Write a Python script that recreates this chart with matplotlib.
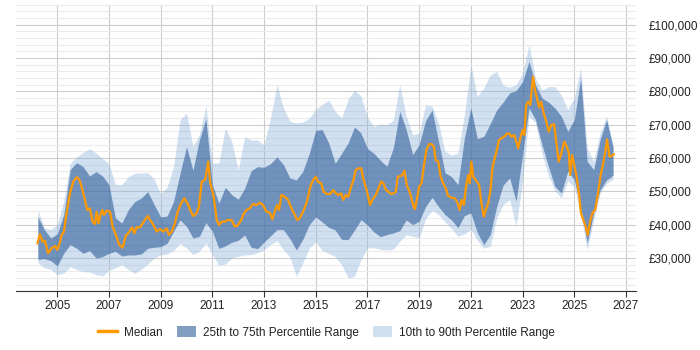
import numpy as np
import matplotlib
matplotlib.use("Agg")
import matplotlib.pyplot as plt
from matplotlib.lines import Line2D
from matplotlib.patches import Patch
from matplotlib.ticker import FuncFormatter, MultipleLocator

plt.rcParams['font.family'] = ['Liberation Sans', 'DejaVu Sans']

# quarterly percentile bands, values in £k
band_years = np.arange(2004.25, 2026.51, 0.25)

p90 = [44.4, 39.0, 38.5,
       40.0, 47.0, 58.4, 60.3,
       61.7, 62.8, 61.5, 59.8,
       58.4, 52.0, 52.0, 54.4,
       55.4, 55.5, 55.6, 53.6,
       49.2, 51.3, 57.5, 71.4,
       73.5, 63.5, 67.0, 75.8,
       58.5, 58.5, 69.0, 65.0,
       56.4, 66.4, 65.4, 65.4,
       63.9, 72.0, 82.0, 75.0,
       71.0, 70.5, 70.8, 71.9,
       74.7, 76.0, 77.4, 74.0,
       72.0, 77.6, 80.3, 78.6,
       72.3, 69.4, 70.2, 70.0,
       71.3, 82.0, 72.5, 67.0,
       67.5, 76.0, 75.5, 70.5,
       62.0, 60.9, 61.5, 73.0,
       88.0, 78.5, 81.0, 84.9,
       86.0, 81.9, 81.2, 82.0,
       85.4, 94.0, 84.0, 80.4,
       81.4, 81.4, 78.9, 74.5,
       78.0, 87.0, 63.0, 59.0,
       67.5, 72.5, 64.0]

p75 = [42.4, 38.5, 36.0,
       37.2, 43.0, 56.5, 58.6,
       57.4, 54.6, 55.9, 54.6,
       52.0, 42.0, 40.5, 44.5,
       46.9, 48.0, 49.9, 46.0,
       42.3, 42.6, 47.0, 55.4,
       63.4, 56.3, 65.5, 71.8,
       52.0, 46.5, 51.2, 49.0,
       47.6, 50.9, 56.2, 57.4,
       57.2, 58.3, 60.3, 58.0,
       54.0, 53.4, 56.0, 61.4,
       68.3, 68.5, 64.5, 58.4,
       61.4, 64.5, 69.3, 67.5,
       62.8, 61.4, 59.3, 57.5,
       63.0, 74.0, 68.5, 61.0,
       64.0, 71.2, 74.4, 65.0,
       55.6, 54.4, 52.0, 66.0,
       75.0, 65.8, 66.5, 70.3,
       74.4, 76.8, 79.5, 80.2,
       82.9, 89.0, 82.0, 78.0,
       76.8, 75.0, 72.5, 68.0,
       71.5, 84.0, 59.0, 56.5,
       65.5, 71.5, 63.2]

p25 = [29.6, 29.8, 29.2,
       27.6, 31.4, 34.0, 32.9,
       31.4, 32.2, 30.0, 30.4,
       31.4, 32.0, 30.6, 30.9,
       30.9, 31.2, 32.9, 33.2,
       33.4, 34.4, 38.0, 41.4,
       39.5, 36.0, 36.5, 40.6,
       38.0, 32.9, 33.6, 34.7,
       35.3, 36.9, 33.2, 32.8,
       34.8, 36.6, 38.5, 38.5,
       35.8, 32.4, 35.6, 40.0,
       42.3, 40.8, 39.2, 38.4,
       35.6, 35.5, 38.4, 41.5,
       39.9, 37.8, 36.4, 37.0,
       37.5, 38.2, 41.4, 40.0,
       41.0, 45.4, 48.2, 45.4,
       43.0, 41.4, 39.1, 42.7,
       43.5, 37.6, 34.0, 37.0,
       45.5, 51.9, 54.0, 47.0,
       61.0, 75.0, 71.5, 64.0,
       57.5, 51.5, 49.5, 56.0,
       53.5, 45.0, 34.5, 43.4,
       50.4, 53.4, 54.8]

p10 = [28.6, 27.0, 26.6,
       25.0, 25.4, 27.4, 26.5,
       25.9, 25.8, 25.0, 24.6,
       26.3, 27.0, 28.0, 26.5,
       25.4, 26.6, 28.2, 30.0,
       30.9, 31.2, 32.2, 34.4,
       33.0, 31.0, 32.0, 34.5,
       31.0, 27.8, 28.2, 30.0,
       30.5, 30.9, 31.0, 31.6,
       32.4, 34.0, 35.2, 32.5,
       30.2, 24.5, 28.5, 33.0,
       34.9, 32.2, 31.4, 30.4,
       28.0, 24.0, 24.5, 29.5,
       33.0, 33.0, 32.6, 32.4,
       32.6, 35.0, 37.0, 36.5,
       36.0, 41.8, 44.3, 43.0,
       40.8, 38.8, 36.5, 37.2,
       38.6, 35.3, 32.9, 33.5,
       42.0, 46.0, 47.5, 39.5,
       53.0, 72.5, 70.5, 61.4,
       54.8, 50.2, 48.0, 53.0,
       51.5, 43.0, 32.5, 41.4,
       49.4, 52.4, 53.6]

# median, £k
median_years = [
    2004.23, 2004.33, 2004.43, 2004.52, 2004.65, 2004.78, 2004.91, 2005.00,
    2005.10, 2005.17, 2005.26, 2005.36, 2005.49, 2005.62, 2005.75, 2005.85,
    2005.94, 2006.07, 2006.16, 2006.26, 2006.37, 2006.46, 2006.52, 2006.60,
    2006.68, 2006.75, 2006.80, 2006.91, 2007.04, 2007.14, 2007.27, 2007.40,
    2007.53, 2007.65, 2007.78, 2007.90, 2007.98, 2008.07, 2008.20, 2008.29,
    2008.39, 2008.50, 2008.59, 2008.72, 2008.85, 2008.97, 2009.10, 2009.23,
    2009.32, 2009.43, 2009.55, 2009.66, 2009.79, 2009.92, 2010.04, 2010.17,
    2010.26, 2010.39, 2010.48, 2010.59, 2010.72, 2010.84, 2010.92, 2011.04,
    2011.17, 2011.26, 2011.36, 2011.48, 2011.61, 2011.74, 2011.87, 2011.99,
    2012.12, 2012.21, 2012.32, 2012.45, 2012.57, 2012.70, 2012.83, 2012.96,
    2013.09, 2013.22, 2013.32, 2013.41, 2013.50, 2013.58, 2013.67, 2013.80,
    2013.93, 2014.06, 2014.19, 2014.28, 2014.38, 2014.51, 2014.66, 2014.79,
    2014.90, 2015.00, 2015.08, 2015.21, 2015.30, 2015.43, 2015.56, 2015.68,
    2015.77, 2015.88, 2015.98, 2016.07, 2016.16, 2016.26, 2016.37, 2016.46,
    2016.55, 2016.65, 2016.76, 2016.85, 2016.97, 2017.10, 2017.19, 2017.32,
    2017.43, 2017.53, 2017.62, 2017.71, 2017.81, 2017.91, 2018.02, 2018.10,
    2018.17, 2018.28, 2018.35, 2018.43, 2018.52, 2018.65, 2018.74, 2018.83,
    2018.92, 2019.00, 2019.09, 2019.18, 2019.28, 2019.39, 2019.49, 2019.57,
    2019.64, 2019.74, 2019.83, 2019.93, 2020.03, 2020.12, 2020.25, 2020.38,
    2020.47, 2020.57, 2020.64, 2020.73, 2020.83, 2020.90, 2020.96, 2021.02,
    2021.09, 2021.19, 2021.32, 2021.41, 2021.50, 2021.58, 2021.67, 2021.76,
    2021.84, 2021.94, 2022.02, 2022.09, 2022.18, 2022.28, 2022.39, 2022.48,
    2022.57, 2022.67, 2022.78, 2022.83, 2022.91, 2023.00, 2023.07, 2023.14,
    2023.22, 2023.30, 2023.35, 2023.41, 2023.48, 2023.56, 2023.64, 2023.72,
    2023.82, 2023.92, 2024.01, 2024.11, 2024.22, 2024.31, 2024.40, 2024.50,
    2024.61, 2024.71, 2024.79, 2024.84, 2024.92, 2025.00, 2025.09, 2025.18,
    2025.26, 2025.35, 2025.44, 2025.52, 2025.61, 2025.71, 2025.81, 2025.92,
    2026.02, 2026.12, 2026.20, 2026.27, 2026.36, 2026.44, 2026.53]

median = [
    34.4, 37.1, 34.9, 35.2, 31.4, 32.9, 33.6, 32.4,
    34.6, 36.9, 37.9, 43.4, 49.4, 52.9, 54.2, 53.6,
    51.4, 47.4, 44.4, 44.9, 40.9, 40.2, 43.9, 40.4,
    43.4, 44.4, 42.9, 44.2, 43.9, 39.4, 36.9, 33.9,
    33.1, 36.6, 37.8, 39.2, 37.4, 39.2, 39.2, 40.2,
    41.4, 42.6, 41.4, 39.9, 37.9, 38.7, 37.9, 38.9,
    36.9, 37.9, 40.4, 43.9, 46.4, 47.9, 46.4, 43.9,
    42.6, 43.4, 45.4, 52.9, 53.4, 58.9, 52.4, 48.9,
    41.4, 39.9, 40.9, 40.9, 41.4, 41.4, 39.4, 39.9,
    41.4, 43.2, 44.4, 44.9, 46.2, 45.9, 46.6, 45.9,
    43.9, 43.6, 41.6, 43.9, 45.9, 44.4, 48.9, 48.4,
    47.4, 44.9, 42.9, 41.4, 41.9, 43.9, 46.9, 51.4,
    53.4, 54.4, 52.9, 52.4, 49.9, 49.2, 49.2, 50.4,
    49.4, 48.9, 49.4, 47.4, 48.9, 48.4, 51.4, 53.4,
    56.4, 56.9, 56.9, 53.4, 50.4, 45.9, 47.4, 48.9,
    50.9, 52.9, 52.4, 50.4, 49.9, 49.2, 49.4, 49.9,
    54.4, 54.6, 54.9, 56.2, 51.9, 49.4, 46.6, 44.6,
    47.9, 51.4, 52.4, 57.4, 62.4, 64.2, 64.1, 63.4,
    59.4, 58.9, 54.4, 52.4, 50.9, 48.6, 48.1, 47.9,
    46.9, 44.4, 47.4, 45.9, 52.4, 54.9, 52.4, 58.9,
    54.4, 53.4, 51.9, 46.4, 42.4, 44.4, 46.4, 50.4,
    57.4, 60.4, 62.9, 65.4, 65.9, 66.4, 67.2, 67.4,
    66.4, 66.9, 64.4, 62.9, 65.9, 68.4, 66.9, 75.9,
    76.9, 75.9, 80.4, 84.4, 80.4, 77.9, 75.2, 76.9,
    73.4, 70.9, 67.9, 69.9, 70.1, 64.4, 58.9, 61.4,
    64.9, 63.4, 61.4, 54.9, 60.9, 57.9, 54.4, 49.4,
    43.4, 41.4, 39.4, 36.9, 40.9, 43.6, 44.4, 49.4,
    54.9, 58.4, 61.9, 65.6, 60.4, 60.6, 61.1]

x_ticks = [2005, 2007, 2009, 2011, 2013, 2015, 2017, 2019, 2021, 2023, 2025, 2027]

dark_blue = '#2f5f9a'
light_blue = '#8cb3db'
orange = '#ff9900'

fig = plt.figure(figsize=(7, 3.5), dpi=100)
ax = fig.add_axes([0.0227, 0.1677, 0.8863, 0.819])

k = 1000
ax.fill_between(band_years, np.array(p10) * k, np.array(p90) * k,
                color=light_blue, alpha=0.4, linewidth=0, zorder=2)
ax.fill_between(band_years, np.array(p25) * k, np.array(p75) * k,
                color=dark_blue, alpha=0.6, linewidth=0, zorder=3)
ax.plot(median_years, np.array(median) * k, color=orange, linewidth=1.6, zorder=4)

ax.set_xlim(2003.4, 2027.4)
ax.set_ylim(20000, 106000)

ax.set_xticks(x_ticks)
ax.set_xticklabels([str(t) for t in x_ticks])
ax.yaxis.set_major_locator(MultipleLocator(10000))
ax.yaxis.set_minor_locator(MultipleLocator(2000))
ax.yaxis.set_major_formatter(FuncFormatter(lambda v, p: '' if v < 30000 else f'£{v:,.0f}'))
ax.yaxis.tick_right()

ax.grid(axis='x', which='major', color='#cccccc', linewidth=0.8)
ax.grid(axis='y', which='major', color='#cccccc', linewidth=0.8)
ax.grid(axis='y', which='minor', color='#ebebeb', linewidth=0.8)
ax.set_axisbelow(True)

ax.spines[['top', 'left', 'right']].set_visible(False)
ax.spines['bottom'].set_color('#333333')
ax.tick_params(axis='x', length=4, color='#333333', labelsize=8.5, pad=2, labelcolor='#222222')
ax.tick_params(axis='y', which='both', length=0, labelsize=8.5, pad=9, labelcolor='#222222')

handles = [Line2D([0], [0], color=orange, linewidth=2.5),
           Patch(facecolor=dark_blue, alpha=0.6, edgecolor='none'),
           Patch(facecolor=light_blue, alpha=0.4, edgecolor='none')]
labels = ['Median', '25th to 75th Percentile Range', '10th to 90th Percentile Range']
fig.legend(handles, labels, loc='center', bbox_to_anchor=(0.466, 0.05), ncol=3,
           frameon=False, fontsize=8.5, handlelength=1.6, handleheight=1.1,
           columnspacing=1.2, handletextpad=0.6, labelcolor='#222222')

fig.savefig('out.png', dpi=100)
